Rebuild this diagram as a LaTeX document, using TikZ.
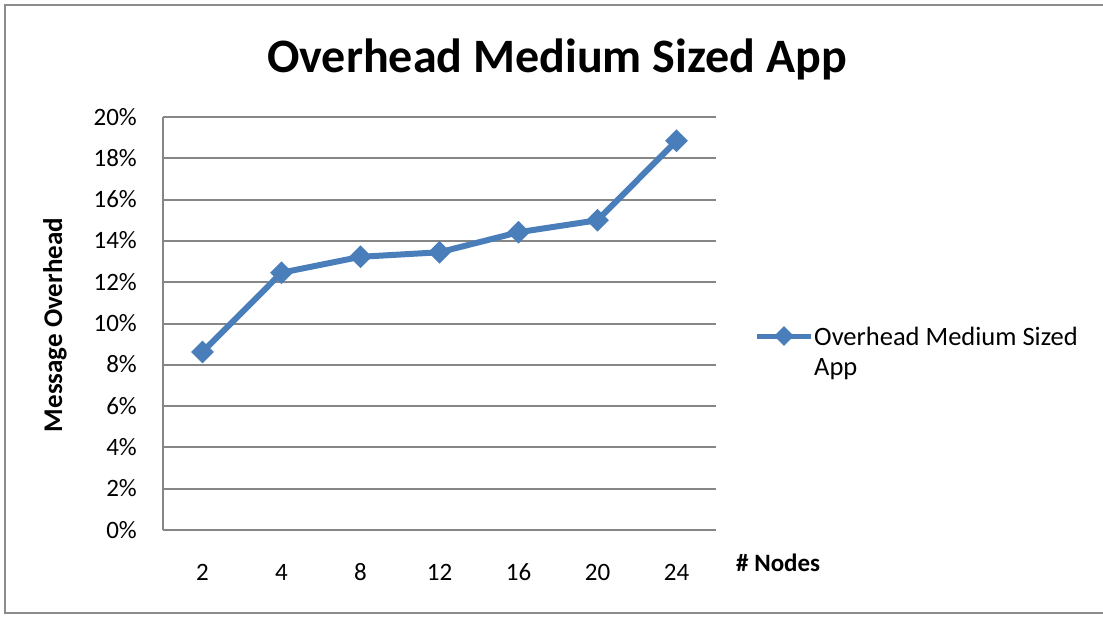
\documentclass[tikz,border=0pt]{standalone}
\usepackage{fontspec}
\setmainfont{Carlito}
\usetikzlibrary{shapes.geometric}
\definecolor{serieblue}{HTML}{4A7EBB}
\definecolor{gridgray}{HTML}{868686}
\definecolor{framegray}{HTML}{8C8C8C}
\tikzset{
  grid line/.style={draw=gridgray, line width=2pt},
  series line/.style={draw=serieblue, line width=6pt, line join=round},
  marker/.style={diamond, fill=serieblue, inner sep=0pt, minimum width=23pt, minimum height=23pt},
  tick label/.style={font=\fontsize{25}{30}\selectfont, inner sep=0pt},
  axis title/.style={font=\fontsize{27}{32}\selectfont\bfseries, inner sep=0pt}
}
\begin{document}
\begin{tikzpicture}[x=1pt, y=-1pt]
  \useasboundingbox (0,0) rectangle (1103,616);
  % outer chart frame (right edge falls outside the page)
  \draw[framegray, line width=2pt] (1106,5) -- (5,5) -- (5,613) -- (1106,613);
  % title
  \node[font=\fontsize{48}{57}\selectfont\bfseries, anchor=base, inner sep=0pt] (title) at (557,72) {Overhead Medium Sized App};
  % horizontal grid lines and value axis labels
  \foreach \v/\lab in {0/0\%,2/2\%,4/4\%,6/6\%,8/8\%,10/10\%,12/12\%,14/14\%,16/16\%,18/18\%,20/20\%} {
    \draw[grid line] (163,530-\v*20.65) -- (716,530-\v*20.65);
    \node[tick label, anchor=base east] (yl\v) at (137,538-\v*20.65) {\lab};
  }
  % value axis
  \draw[grid line] (163,117) -- (163,530);
  % category labels
  \foreach \lab [count=\i] in {2,4,8,12,16,20,24} {
    \node[tick label, anchor=base] (xl\i) at (163+79*\i-39.5,580) {\lab};
  }
  % axis titles
  \node[axis title, rotate=90] (ytitle) at (55,325) {Message Overhead};
  \node[font=\fontsize{25}{30}\selectfont\bfseries, anchor=base west, inner sep=0pt] (xtitle) at (736,571) {\# Nodes};
  % data points
  \foreach \val [count=\i] in {8.62,12.46,13.23,13.45,14.42,15.0,18.85} {
    \coordinate (c\i) at (163+79*\i-39.5,530-\val*20.65);
  }
  \draw[series line] (c1) -- (c2) -- (c3) -- (c4) -- (c5) -- (c6) -- (c7);
  \foreach \i in {1,...,7} {
    \node[marker] (p\i) at (c\i) {};
  }
  % legend
  \coordinate (la) at (757,336);
  \coordinate (lb) at (811,336);
  \draw[series line, line width=5pt] (la) -- (lb);
  \node[marker, minimum width=20pt, minimum height=20pt] (lm) at (784,336) {};
  \node[font=\fontsize{26.5}{30}\selectfont, anchor=base west, inner sep=0pt] (lt1) at (814,345) {Overhead Medium Sized};
  \node[font=\fontsize{26.5}{30}\selectfont, anchor=base west, inner sep=0pt] (lt2) at (814,375) {App};
\end{tikzpicture}
\end{document}
